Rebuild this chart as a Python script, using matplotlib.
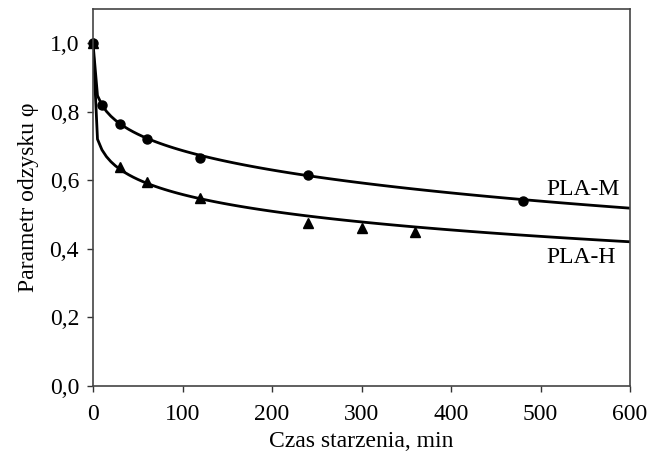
import matplotlib.pyplot as plt
import numpy as np

plt.rcParams['font.family'] = ['Liberation Serif', 'DejaVu Serif']

# measured points
t_m = [0, 10, 30, 60, 120, 240, 480]
phi_m = [1.0, 0.82, 0.765, 0.72, 0.665, 0.615, 0.54]
t_h = [0, 30, 60, 120, 240, 300, 360]
phi_h = [1.0, 0.64, 0.595, 0.55, 0.475, 0.46, 0.45]

# fitted curves: phi = 1 - a * t^b
fit_m = (0.1036, 0.24)
fit_h = (0.219, 0.152)

xticks = [0, 100, 200, 300, 400, 500, 600]
yticks = [0.0, 0.2, 0.4, 0.6, 0.8, 1.0]
ylabels = ['0,0', '0,2', '0,4', '0,6', '0,8', '1,0']

fig = plt.figure(figsize=(6.62, 4.55), dpi=100)
ax = fig.add_axes([0.1405, 0.1516, 0.8112, 0.8284])

tt = np.arange(0, 601, 5.0)
ax.plot(tt, 1 - fit_m[0] * tt**fit_m[1], color='black', lw=2)
ax.plot(tt, 1 - fit_h[0] * tt**fit_h[1], color='black', lw=2)

ax.plot(t_m, phi_m, 'o', color='black', ms=6.5, clip_on=False)
ax.plot(t_h, phi_h, '^', color='black', ms=7.5, clip_on=False)

ax.text(588, 0.574, 'PLA-M', ha='right', va='center', fontsize=17)
ax.text(584, 0.375, 'PLA-H', ha='right', va='center', fontsize=17)

ax.set_xlim(0, 600)
ax.set_ylim(0, 1.1)
ax.set_xticks(xticks)
ax.set_yticks(yticks)
ax.set_yticklabels(ylabels)
ax.tick_params(labelsize=17, length=4, width=1, direction='out', color='#333333')
ax.tick_params(axis='y', pad=6)
ax.tick_params(axis='x', pad=9)
for s in ax.spines.values():
    s.set_color('#444444')
    s.set_linewidth(1.2)

ax.set_xlabel('Czas starzenia, min', fontsize=17, labelpad=4)
ax.set_ylabel('Parametr odzysku φ', fontsize=17, labelpad=8)

fig.savefig('out.png', dpi=100)
